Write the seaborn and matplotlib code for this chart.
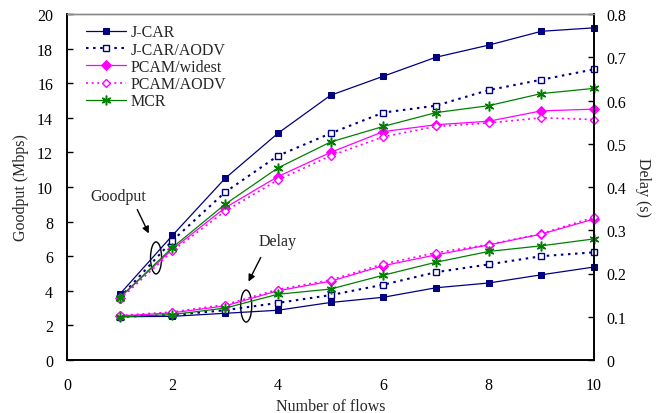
import matplotlib
matplotlib.use("Agg")
import matplotlib.pyplot as plt
from matplotlib.patches import Ellipse
import seaborn as sns
import pandas as pd

flows = [1, 2, 3, 4, 5, 6, 7, 8, 9, 10]
series = ["J-CAR", "J-CAR/AODV", "PCAM/widest", "PCAM/AODV", "MCR"]

goodput_jcar = [3.8, 7.2, 10.5, 13.1, 15.3, 16.4, 17.5, 18.2, 19.0, 19.2]
goodput_jcar_aodv = [3.6, 6.9, 9.7, 11.8, 13.1, 14.3, 14.7, 15.6, 16.2, 16.8]
goodput_pcam_widest = [3.6, 6.4, 8.8, 10.6, 12.0, 13.2, 13.6, 13.8, 14.4, 14.5]
goodput_pcam_aodv = [3.5, 6.3, 8.6, 10.4, 11.8, 12.9, 13.5, 13.7, 14.0, 13.9]
goodput_mcr = [3.6, 6.5, 9.0, 11.1, 12.6, 13.5, 14.3, 14.7, 15.4, 15.7]

delay_jcar = [0.100, 0.101, 0.108, 0.115, 0.133, 0.145, 0.167, 0.178, 0.197, 0.215]
delay_jcar_aodv = [0.100, 0.104, 0.115, 0.132, 0.150, 0.174, 0.203, 0.221, 0.240, 0.249]
delay_pcam_widest = [0.102, 0.109, 0.125, 0.160, 0.182, 0.218, 0.243, 0.266, 0.291, 0.326]
delay_pcam_aodv = [0.103, 0.111, 0.128, 0.163, 0.185, 0.222, 0.248, 0.267, 0.292, 0.330]
delay_mcr = [0.100, 0.105, 0.120, 0.152, 0.164, 0.196, 0.226, 0.251, 0.264, 0.280]

goodput = [goodput_jcar, goodput_jcar_aodv, goodput_pcam_widest, goodput_pcam_aodv, goodput_mcr]
delay = [delay_jcar, delay_jcar_aodv, delay_pcam_widest, delay_pcam_aodv, delay_mcr]

left_ticks = [0, 2, 4, 6, 8, 10, 12, 14, 16, 18, 20]
right_ticks = [0, 0.1, 0.2, 0.3, 0.4, 0.5, 0.6, 0.7, 0.8]
right_labels = ["0", "0.1", "0.2", "0.3", "0.4", "0.5", "0.6", "0.7", "0.8"]
x_ticks = [0, 2, 4, 6, 8, 10]

navy = "#000080"
magenta = "#FF00FF"
green = "#008000"
dot = (0, (1.2, 2.2))
styles = [
    dict(color=navy, marker="s", markersize=5, markerfacecolor=navy, markeredgecolor=navy, linestyle="-", linewidth=0.9),
    dict(color=navy, marker="s", markersize=5, markerfacecolor="white", markeredgecolor=navy, markeredgewidth=1.0, linestyle=dot, linewidth=1.5),
    dict(color=magenta, marker="D", markersize=5, markerfacecolor=magenta, markeredgecolor=magenta, linestyle="-", linewidth=0.9),
    dict(color=magenta, marker="D", markersize=4.5, markerfacecolor="white", markeredgecolor=magenta, markeredgewidth=1.0, linestyle=dot, linewidth=1.2),
    dict(color=green, marker=(6, 2, 0), markersize=7, markeredgecolor=green, markeredgewidth=1.1, linestyle="-", linewidth=0.9),
]

sns.set_theme(style="white")
plt.rcParams["font.family"] = ["Liberation Serif", "DejaVu Serif"]
plt.rcParams["font.size"] = 11.5

fig = plt.figure(figsize=(6.68, 4.14), dpi=100)
ax = fig.add_axes([67 / 668, 1 - 361 / 414, (594 - 67) / 668, (361 - 15) / 414])
ax2 = ax.twinx()

handles = []
for name, g, d, st in zip(series, goodput, delay, styles):
    df = pd.DataFrame({"flows": flows, "goodput": g, "delay": d})
    sns.lineplot(data=df, x="flows", y="goodput", ax=ax, legend=False, clip_on=False, **st)
    handles.append(ax.lines[-1])
    sns.lineplot(data=df, x="flows", y="delay", ax=ax2, legend=False, clip_on=False, **st)

ax.set_xlim(0, 10)
ax.set_ylim(0, 20)
ax2.set_ylim(0, 0.8)
ax.set_xticks(x_ticks)
ax.set_xticklabels([str(t) for t in x_ticks])
ax.set_yticks(left_ticks)
ax.set_yticklabels([str(t) for t in left_ticks])
ax2.set_yticks(right_ticks)
ax2.set_yticklabels(right_labels)

ax.set_xlabel("Number of flows", fontsize=11.5, labelpad=4)
ax.set_ylabel("Goodput (Mbps)", fontsize=11.5, labelpad=6)
ax2.set_ylabel("Delay (s)", fontsize=11.5, rotation=-90, labelpad=18)

for a in (ax, ax2):
    a.tick_params(axis="both", direction="in", length=4, width=1, colors="black", labelsize=11.5)
    for s in ["left", "right", "bottom"]:
        a.spines[s].set_color("black")
        a.spines[s].set_linewidth(1.2)
    a.spines["top"].set_color("#8a8a8a")
    a.spines["top"].set_linewidth(1.0)
    a.grid(False)
ax.tick_params(axis="x", pad=12)
ax.tick_params(axis="y", pad=10, left=True)
ax2.tick_params(axis="y", pad=9, right=True)

leg = ax.legend(handles, series, loc="upper left", bbox_to_anchor=(0.036, 0.97), frameon=False,
                handlelength=2.5, handletextpad=0.3, labelspacing=0.08, borderaxespad=0.0,
                borderpad=0.0, fontsize=11.5)

# annotations
ax.add_patch(Ellipse((1.69, 5.9), 0.21, 1.85, fill=False, edgecolor="black", linewidth=1.0))
ax.add_patch(Ellipse((3.40, 3.12), 0.21, 1.85, fill=False, edgecolor="black", linewidth=1.0))
ax.annotate("", xy=(1.575, 7.17), xytext=(1.31, 8.84),
            arrowprops=dict(arrowstyle="-|>", color="black", lw=1.0, mutation_scale=10))
ax.annotate("", xy=(3.42, 4.39), xytext=(3.70, 6.07),
            arrowprops=dict(arrowstyle="-|>", color="black", lw=1.0, mutation_scale=10))
ax.text(0.97, 9.5, "Goodput", ha="center", va="center", fontsize=11.5)
ax.text(4.0, 6.9, "Delay", ha="center", va="center", fontsize=11.5)

fig.savefig("out.png", dpi=100)
